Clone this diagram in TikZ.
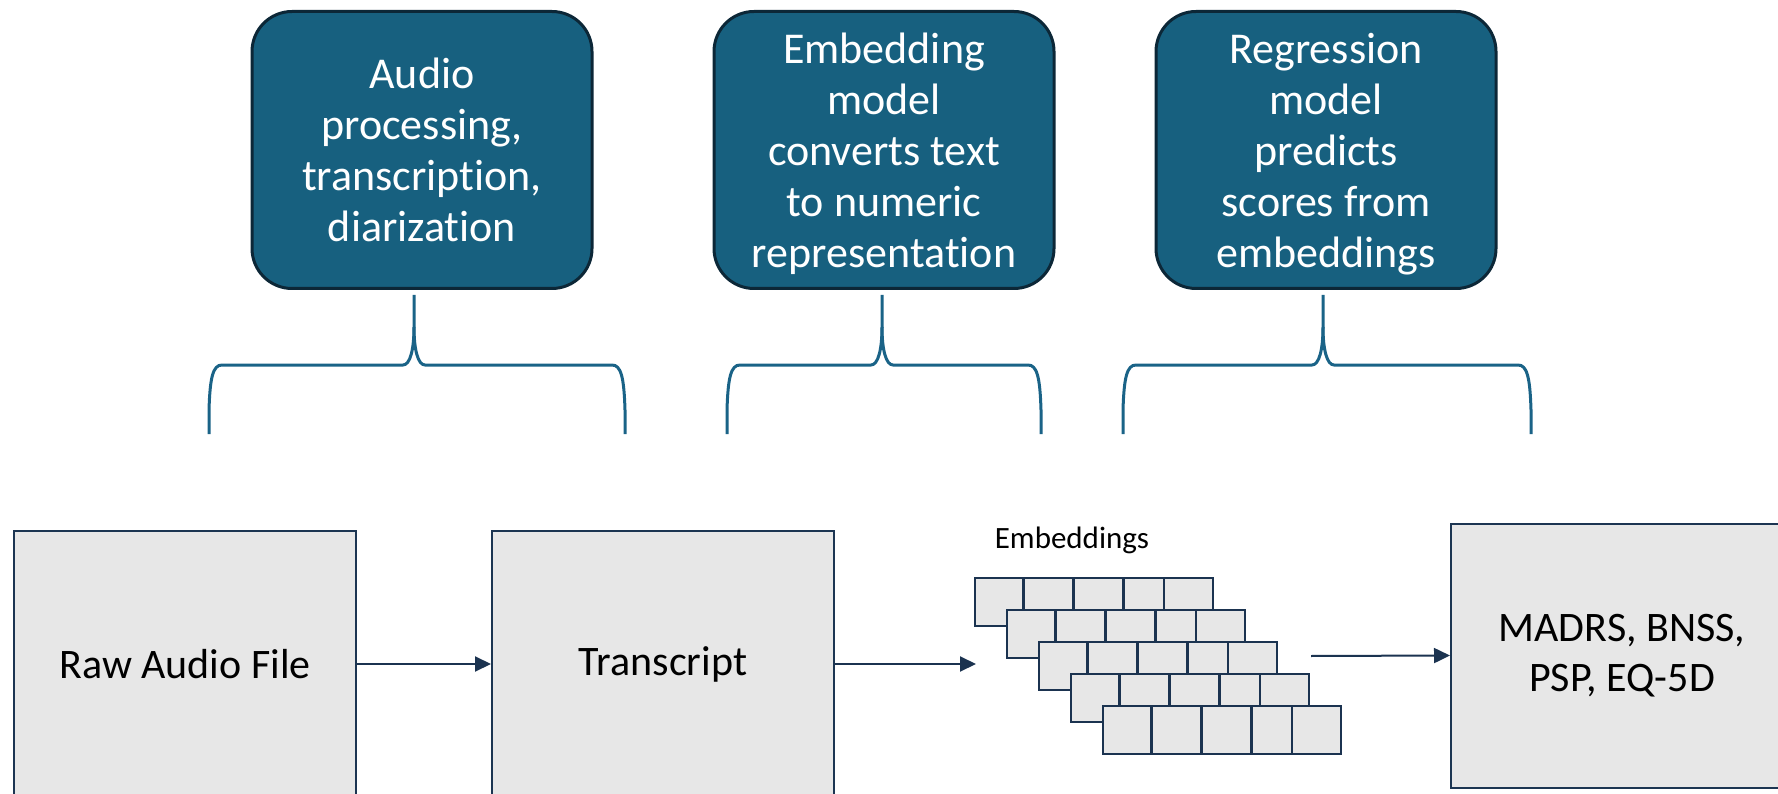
\documentclass[tikz,border=0pt]{standalone}
\usepackage{fontspec}
\setmainfont{Carlito}[Ligatures=NoCommon]
\usetikzlibrary{arrows.meta}
\definecolor{stepfill}{HTML}{17607F}
\definecolor{stepedge}{HTML}{0C2737}
\definecolor{bracecol}{HTML}{1A6387}
\definecolor{boxfill}{HTML}{E7E7E7}
\definecolor{boxedge}{HTML}{1C3552}
\definecolor{arrowcol}{HTML}{1B3350}

\begin{document}
\begin{tikzpicture}[x=1pt,y=-1pt,
  stepbox/.style={draw=stepedge, line width=3pt, fill=stepfill, rounded corners=40pt,
    minimum width=340pt, minimum height=277pt, text=white, align=center,
    font=\fontsize{44}{51}\selectfont, inner sep=0pt, text depth=0pt},
  databox/.style={draw=boxedge, line width=2pt, fill=boxfill, minimum width=342pt,
    minimum height=266pt, align=center, font=\fontsize{42}{50}\selectfont, inner sep=0pt},
  flow/.style={draw=arrowcol, line width=2pt, -{Triangle[length=16pt,width=15pt]}},
  bracket/.style={draw=bracecol, line width=3pt},
  cell/.style={draw=arrowcol, line width=2.5pt, fill=boxfill}
]
\useasboundingbox (0,0) rectangle (1778,794);
\clip (0,0) rectangle (1778,794);

% processing steps
\node[stepbox] (audio) at (422,150) {Audio\\processing,\\transcription,\\diarization};
\node[stepbox] (embed) at (884,150) {Embedding\\model\\converts text\\to numeric\\representation};
\node[stepbox] (regr)  at (1326,150) {Regression\\model\\predicts\\scores from\\embeddings};

% curly brackets below each step
\foreach \l/\t/\r in {209/414/625, 727/882/1041, 1123/1323/1531} {
  \draw[bracket] (\l,434) -- (\l,410) .. controls (\l+1,377) and (\l+4,365) .. (\l+13,365)
    -- (\t-11,365) .. controls (\t-4,365) and (\t,350) .. (\t,327) -- (\t,295);
  \draw[bracket] (\t,327) .. controls (\t,350) and (\t+4,365) .. (\t+11,365)
    -- (\r-13,365) .. controls (\r-4,365) and (\r-1,377) .. (\r,410) -- (\r,434);
}

% data boxes
\node[databox] (raw)   at (185,664) {Raw Audio File};
\node[databox] (trans) at (663,664) {Transcript};
\node[databox, minimum height=264pt] (scores) at (1622,655.5) {MADRS, BNSS,\\PSP, EQ-5D};

% stacked embedding vectors
\node[anchor=base, font=\fontsize{31}{36}\selectfont] (emblabel) at (1072,548) {Embeddings};
\foreach \i in {0,...,4} {
  \pgfmathsetmacro{\xo}{975+32*\i}
  \pgfmathsetmacro{\yo}{578+32*\i}
  \foreach \a/\b in {0/48.3, 48.3/98.3, 98.3/148.3, 148.3/189, 189/238} {
    \draw[cell] (\xo+\a,\yo) rectangle (\xo+\b,\yo+48);
  }
}
\coordinate (embin)  at (976,664);
\coordinate (embout) at (1311,656);

% flow arrows
\draw[flow] (raw.east) -- (trans.west);
\draw[flow] (trans.east) -- (embin);
\draw[flow] (embout) -- (scores.west);
\end{tikzpicture}
\end{document}
